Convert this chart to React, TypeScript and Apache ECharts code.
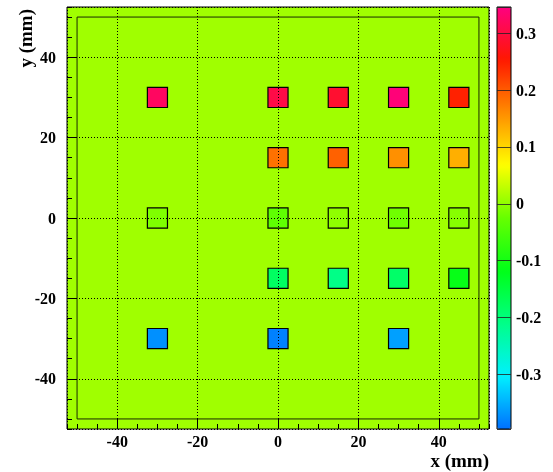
import React, { useEffect, useRef } from "react";
import * as echarts from "echarts";

// ---- data ----
const pointX = [-30, 0, 15, 30, 45, 0, 15, 30, 45, -30, 0, 15, 30, 45, 0, 15, 30, 45, -30, 0, 30];
const pointY = [30, 30, 30, 30, 30, 15, 15, 15, 15, 0, 0, 0, 0, 0, -15, -15, -15, -15, -30, -30, -30];
const pointZ = [
  0.323, 0.305, 0.288, 0.34, 0.246,
  0.182, 0.195, 0.157, 0.132,
  -0.01, -0.031, 0.0, -0.019, -0.005,
  -0.178, -0.21, -0.184, -0.112,
  -0.373, -0.384, -0.361,
];
const cellSize = 5; // mm
const detectorBox = [-50, -50, 50, 50];
const axisRange = [-52.5, 52.5];
const zRange = [-0.396, 0.346];
const paletteColors = [
  "#0070ff", "#00f0ff", "#00ff88", "#00ff18", "#66ff00",
  "#ffff00", "#ff8c00", "#ff1800", "#ff0080",
];
const zeroColor = "#a0ff00";

const FONT = '"Liberation Serif", "DejaVu Serif", serif';

export default function App() {
  const ref = useRef<HTMLDivElement>(null);
  useEffect(() => {
    document.body.style.margin = "0";
    const chart = echarts.init(ref.current!, null, { renderer: "svg" });
    const data = pointX.map((x, i) => [x, pointY[i], pointZ[i]]);
    const labelStyle = { fontFamily: FONT, fontWeight: "bold" as const, fontSize: 16, color: "#000" };

    const mainAxisCommon = (isX: boolean) => ({
      type: "value",
      gridIndex: 0,
      min: axisRange[0],
      max: axisRange[1],
      splitNumber: 5,
      position: isX ? "bottom" : "left",
      z: 3,
      axisLine: { show: false, onZero: false },
      axisTick: { show: true, inside: true, length: 10, lineStyle: { color: "#000", width: 1 } },
      splitLine: { show: true, lineStyle: { color: "#000", type: [1, 2], width: 1 } },
      axisLabel: {
        ...labelStyle,
        margin: isX ? 4 : 11,
        showMinLabel: false,
        showMaxLabel: false,
        formatter: (v: number) => String(Math.round(v)),
      },
    });
    const minorAxis = (isX: boolean) => ({
      type: "value",
      gridIndex: 0,
      min: axisRange[0],
      max: axisRange[1],
      splitNumber: 21,
      position: isX ? "bottom" : "left",
      z: 3,
      axisLine: { show: false, onZero: false },
      axisTick: { show: true, inside: true, length: 5, lineStyle: { color: "#000", width: 1 } },
      splitLine: { show: false },
      axisLabel: { show: false },
    });

    chart.setOption({
      animation: false,
      grid: [
        {
          left: 67, top: 7, width: 422, height: 422,
          show: true, backgroundColor: zeroColor, borderColor: "#000", borderWidth: 1,
        },
        {
          left: 497, top: 7, width: 14, height: 422,
          show: true, backgroundColor: "transparent", borderColor: "#000", borderWidth: 1, z: 6,
        },
      ],
      xAxis: [
        mainAxisCommon(true),
        minorAxis(true),
        { type: "value", gridIndex: 1, min: 0, max: 1, show: false, axisLine: { onZero: false } },
      ],
      yAxis: [
        mainAxisCommon(false),
        minorAxis(false),
        {
          type: "value",
          gridIndex: 1,
          min: zRange[0],
          max: zRange[1],
          splitNumber: 7,
          position: "right",
          z: 7,
          axisLine: { show: false, onZero: false },
          axisTick: { show: false },
          splitLine: { show: true, lineStyle: { color: "#222", width: 1, opacity: 0.8 } },
          axisLabel: {
            ...labelStyle,
            margin: 5,
            showMinLabel: false,
            showMaxLabel: false,
            formatter: (v: number) => {
              const r = Math.round(v * 10) / 10;
              return r === 0 ? "0" : String(r);
            },
          },
        },
      ],
      visualMap: {
        type: "continuous",
        min: zRange[0],
        max: zRange[1],
        dimension: 2,
        seriesIndex: 0,
        calculable: false,
        orient: "vertical",
        left: 497,
        top: 7,
        itemWidth: 14,
        itemHeight: 422,
        padding: 0,
        inRange: { color: paletteColors },
        z: 5,
      },
      graphic: [
        {
          type: "text",
          x: 489,
          y: 460,
          style: {
            text: "x (mm)",
            font: `bold 19px ${FONT}`,
            fill: "#000",
            align: "right",
            textAlign: "right",
            verticalAlign: "middle",
            textVerticalAlign: "middle",
          },
        },
        {
          type: "text",
          x: 25,
          y: 9,
          rotation: Math.PI / 2,
          style: {
            text: "y (mm)",
            font: `bold 19px ${FONT}`,
            fill: "#000",
            align: "right",
            textAlign: "right",
            verticalAlign: "middle",
            textVerticalAlign: "middle",
          },
        },
      ],
      series: [
        {
          type: "custom",
          xAxisIndex: 0,
          yAxisIndex: 0,
          z: 2,
          data,
          encode: { x: 0, y: 1 },
          renderItem: (params: any, api: any) => {
            const x = api.value(0);
            const y = api.value(1);
            const p0 = api.coord([x - cellSize / 2, y + cellSize / 2]);
            const p1 = api.coord([x + cellSize / 2, y - cellSize / 2]);
            return {
              type: "rect",
              shape: { x: p0[0], y: p0[1], width: p1[0] - p0[0], height: p1[1] - p0[1] },
              style: { fill: api.visual("color"), stroke: "#000", lineWidth: 1.2 },
            };
          },
        },
        {
          type: "custom",
          xAxisIndex: 0,
          yAxisIndex: 0,
          z: 1,
          silent: true,
          data: [detectorBox],
          encode: { x: [0, 2], y: [1, 3] },
          renderItem: (params: any, api: any) => {
            const p0 = api.coord([api.value(0), api.value(3)]);
            const p1 = api.coord([api.value(2), api.value(1)]);
            return {
              type: "rect",
              shape: { x: p0[0], y: p0[1], width: p1[0] - p0[0], height: p1[1] - p0[1] },
              style: { fill: "none", stroke: "#1a2a00", lineWidth: 1 },
            };
          },
        },
        {
          type: "custom",
          xAxisIndex: 2,
          yAxisIndex: 2,
          data: [],
          renderItem: () => null,
        },
      ],
    });
    return () => chart.dispose();
  }, []);
  return <div ref={ref} style={{ position: "fixed", left: 0, top: 0, width: 553, height: 472 }} />;
}
